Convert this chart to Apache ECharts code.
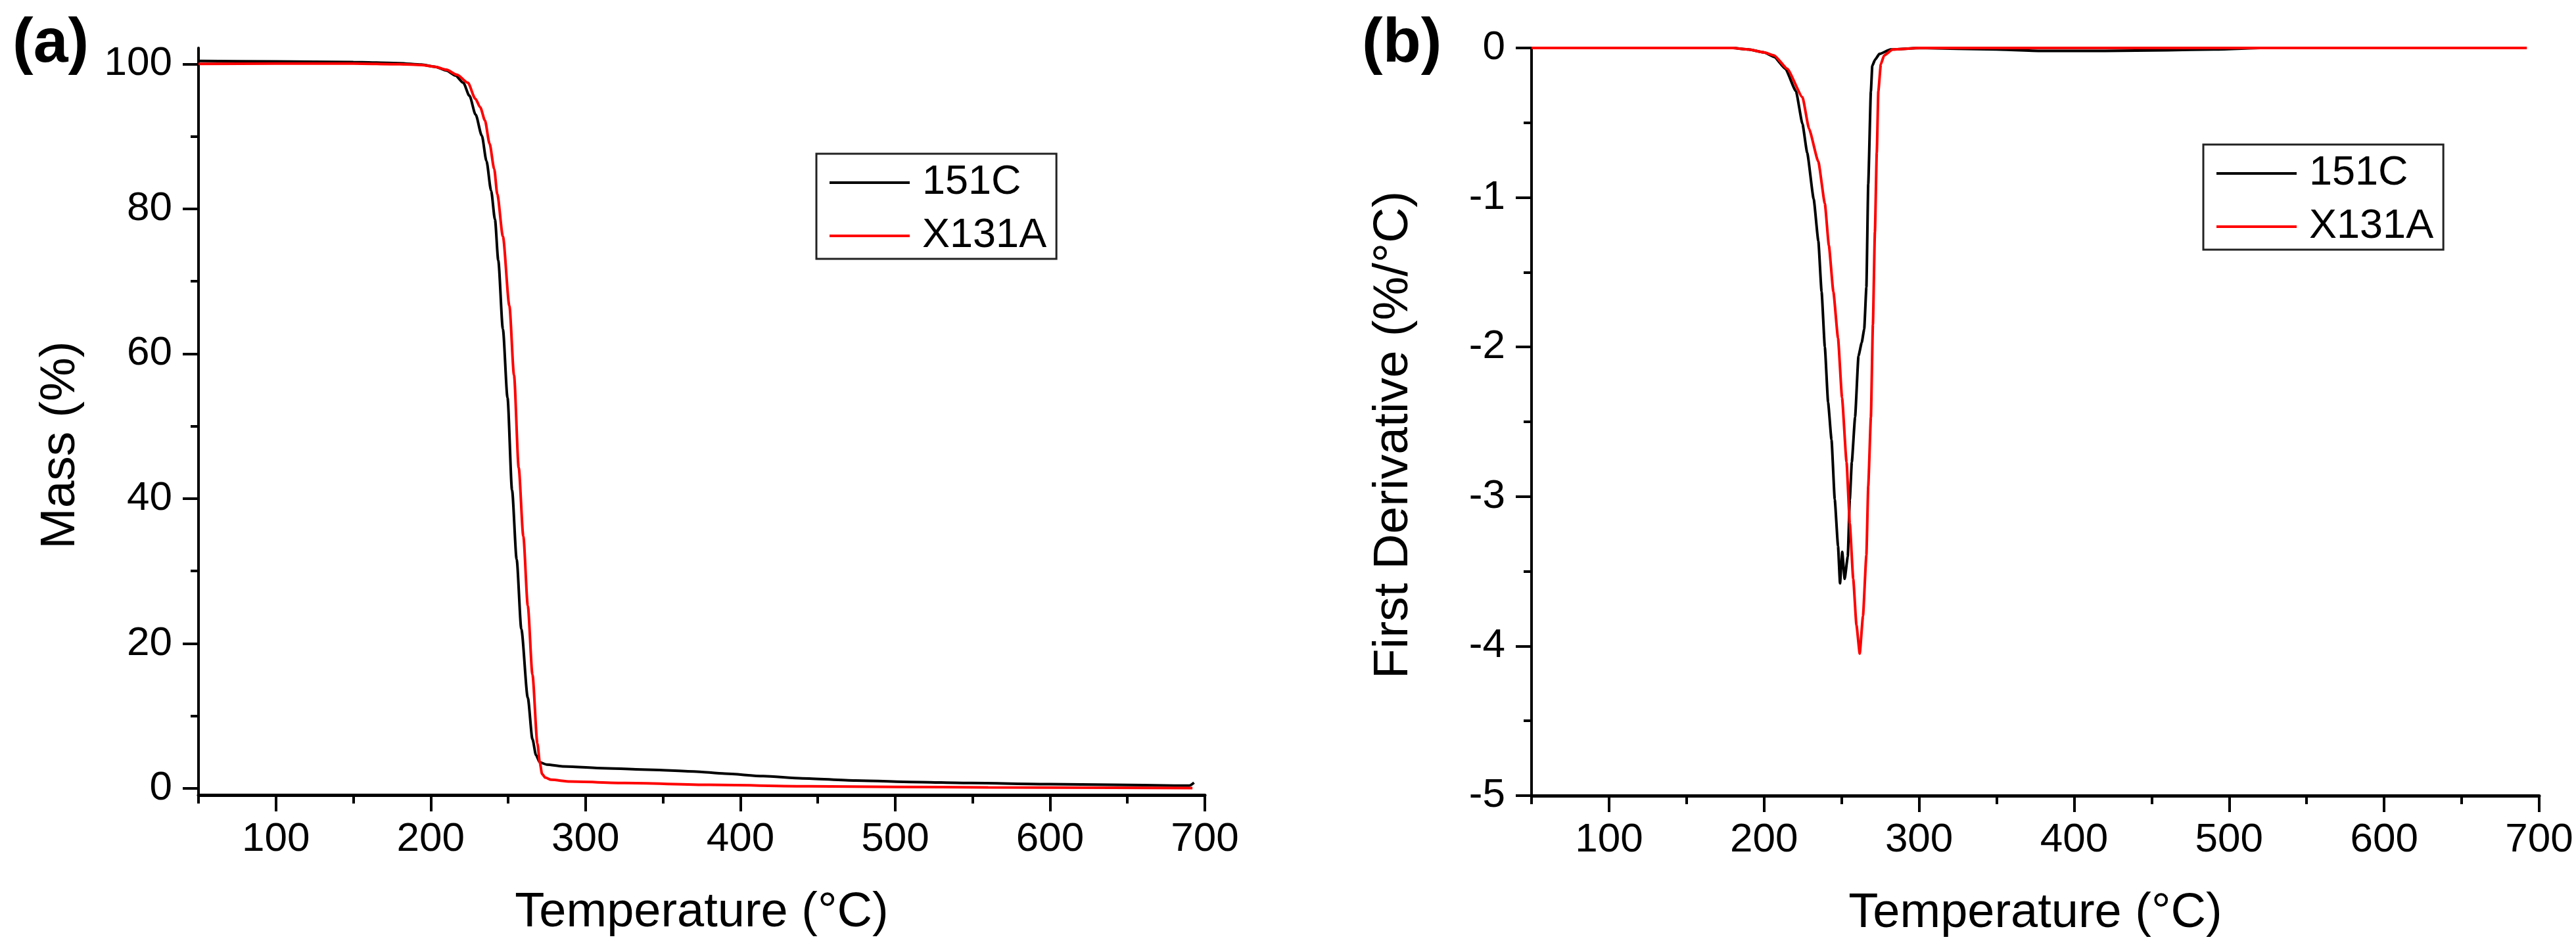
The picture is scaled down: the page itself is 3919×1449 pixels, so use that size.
<!DOCTYPE html>
<html>
<head>
<meta charset="utf-8">
<script src="https://cdn.jsdelivr.net/npm/echarts@6/dist/echarts.min.js"></script>
<style>
html,body{margin:0;padding:0;background:#fff;}
#main{width:3919px;height:1449px;}
</style>
</head>
<body>
<div id="main"></div>
<script>
//TGA curves (panel a)
var tgaTemp151C = [50,100,150,180,194,203,210,216,221,225,229,233,236,239,241.5,243.6,246.6,249.6,252.5,255.5,258.5,262.7,265.7,268,270.4,274.9,285,310.7,340,370,390,414.8,440,474.4,510,549,600,641,680,690,693];
var tgaMass151C = [100.4,100.35,100.25,100.1,99.9,99.6,99.1,98.4,97.4,95.6,93.0,90.1,86.6,82.5,78.5,72.9,63.4,53.9,41.2,31.6,22.0,12.5,6.8,4.6,3.6,3.3,3.05,2.8,2.6,2.35,2.05,1.7,1.4,1.1,0.9,0.75,0.6,0.5,0.4,0.4,0.8];
var tgaTempX131A = [50,100,150,180,194,203,210,217,224,228.8,232,235,238,241,243,246.6,250.8,253.8,256.8,259.8,262.7,265.7,268.9,270.5,271.9,274,277.8,290,325.6,380,444.5,500,560,641,692];
var tgaMassX131A = [100.0,100.05,100.05,99.95,99.85,99.6,99.2,98.5,97.4,95.2,94.0,92.2,89.0,85.5,82.0,76.2,66.6,57.0,44.3,34.8,25.2,15.7,6.2,3.5,2.0,1.5,1.2,0.95,0.75,0.5,0.3,0.22,0.15,0.1,0.05];
//DTG curves (panel b)
var dtgTemp151C = [50,100,150,180,190,200,206.6,213.8,220.6,224.8,227.8,232,235,237.1,239.2,241.3,243.5,245.6,247.7,249,250.4,252,254,255.3,256.6,258.7,260.9,263,264.6,266,267.2,268.9,269.8,271.5,274.4,281.6,300,350,380,420,460,490,520,600,692];
var dtgVal151C = [0,0,0,0,-0.01,-0.03,-0.06,-0.14,-0.29,-0.51,-0.70,-1.01,-1.29,-1.63,-2.0,-2.37,-2.62,-3.02,-3.33,-3.58,-3.37,-3.55,-3.4,-3.02,-2.77,-2.47,-2.06,-1.97,-1.88,-1.60,-0.91,-0.29,-0.12,-0.08,-0.04,-0.01,0,-0.01,-0.02,-0.02,-0.015,-0.01,0,0,0];
var dtgTempX131A = [50,100,150,180,190,200,206.6,215,224.8,229,235,239.2,241.8,244.7,247.7,250.3,253.2,255.3,257.5,259.6,261.7,263.8,266,267.2,268.9,270.2,271.5,272.7,273.7,275.3,277.4,283,300,400,500,600,692];
var dtgValX131A = [0,0,0,0,-0.01,-0.03,-0.05,-0.14,-0.33,-0.54,-0.76,-1.04,-1.32,-1.63,-1.94,-2.34,-2.77,-3.18,-3.55,-3.86,-4.05,-3.80,-3.39,-2.93,-2.47,-1.85,-1.23,-0.70,-0.29,-0.11,-0.05,-0.01,0,0,0,0,0];
//ticks
var xMajor = [100,200,300,400,500,600,700];
var xMinor = [50,150,250,350,450,550,650];
var yMajorA = [0,20,40,60,80,100];
var yMinorA = [10,30,50,70,90];
var seriesNames = ['151C','X131A'];
var seriesColors = ['#000000','#ff0000'];

function zip(xs,ys){
    var out = [];
    for(var i=0,len=xs.length;i<len;i++){
        out.push([xs[i],ys[i]]);
    }
    return out;
}

var FONT = '"Liberation Sans", Arial, Helvetica, sans-serif';
var axisColor = '#000';

//main temperature axis, labels + long ticks
function mainX(grid){
    return {
        type:'value', gridIndex:grid, position:'bottom', min:50, max:700,
        name:'Temperature (\u00b0C)', nameLocation:'middle', nameGap:143,
        nameTextStyle:{fontSize:74,color:'#000',fontFamily:FONT},
        axisLine:{show:true,onZero:false,lineStyle:{color:axisColor,width:5}},
        axisTick:{show:true,customValues:xMajor,length:25,lineStyle:{color:axisColor,width:4}},
        axisLabel:{customValues:xMajor,margin:37,fontSize:62,color:'#000',fontFamily:FONT},
        splitLine:{show:false}
    };
}
//second axis on the same spot, only short ticks
function minorX(grid){
    return {
        type:'value', gridIndex:grid, position:'bottom', offset:0, min:50, max:700,
        axisLine:{show:false,onZero:false},
        axisTick:{show:true,customValues:xMinor,length:13,lineStyle:{color:axisColor,width:4}},
        axisLabel:{show:false},
        splitLine:{show:false}
    };
}
function legendAt(left,top){
    return {
        left:left, top:top, orient:'vertical', data:seriesNames,
        icon:'rect', itemWidth:122, itemHeight:4, itemGap:11,
        padding:[9,15,0,20], borderColor:'#222', borderWidth:3,
        textStyle:{fontSize:63,color:'#000',fontFamily:FONT,lineHeight:70,padding:[0,0,0,14]}
    };
}
function curve(i,xIdx,yIdx,data,smooth){
    return {
        name:seriesNames[i], type:'line', xAxisIndex:xIdx, yAxisIndex:yIdx,
        symbol:'none', showSymbol:false, smooth:smooth, smoothMonotone:'x',
        lineStyle:{color:seriesColors[i],width:4}, itemStyle:{color:seriesColors[i]},
        data:data
    };
}

var e = echarts.init(document.getElementById('main'));
var option = {
    backgroundColor:'#ffffff',
    animation:false,
    grid:[
        {left:302,right:2086,top:73,bottom:239},
        {left:2330,right:56,top:73,bottom:238}
    ],
    xAxis:[mainX(0),minorX(0),mainX(1),minorX(1)],
    yAxis:[
        {
            type:'value', gridIndex:0, position:'left', min:-0.9, max:102.2,
            name:'Mass (%)', nameLocation:'middle', nameGap:172,
            nameTextStyle:{fontSize:75,color:'#000',fontFamily:FONT,padding:[0,72,0,0]},
            axisLine:{show:true,onZero:false,lineStyle:{color:axisColor,width:4}},
            axisTick:{show:true,customValues:yMajorA,length:24,lineStyle:{color:axisColor,width:4}},
            axisLabel:{customValues:yMajorA,margin:40,fontSize:62,color:'#000',fontFamily:FONT},
            splitLine:{show:false}
        },
        {
            type:'value', gridIndex:0, position:'left', offset:0, min:-0.9, max:102.2,
            axisLine:{show:false,onZero:false},
            axisTick:{show:true,customValues:yMinorA,length:12,lineStyle:{color:axisColor,width:4}},
            axisLabel:{show:false},
            splitLine:{show:false}
        },
        {
            type:'value', gridIndex:1, position:'left', min:-5, max:0, interval:1,
            name:'First Derivative (%/\u00b0C)', nameLocation:'middle', nameGap:172,
            nameTextStyle:{fontSize:75,color:'#000',fontFamily:FONT,padding:[0,40,0,0]},
            axisLine:{show:true,onZero:false,lineStyle:{color:axisColor,width:4}},
            axisTick:{show:true,length:24,lineStyle:{color:axisColor,width:4}},
            minorTick:{show:true,splitNumber:2,length:12,lineStyle:{color:axisColor,width:4}},
            axisLabel:{margin:40,fontSize:62,color:'#000',fontFamily:FONT},
            splitLine:{show:false},
            minorSplitLine:{show:false}
        }
    ],
    legend:[legendAt(1242,234),legendAt(3352,220)],
    graphic:[
        {type:'text',left:19,top:20,style:{text:'(a)',font:'bold 95px '+FONT,fill:'#000'}},
        {type:'text',left:2072,top:20,style:{text:'(b)',font:'bold 95px '+FONT,fill:'#000'}}
    ],
    series:[
        curve(0,0,0,zip(tgaTemp151C,tgaMass151C),0.25),
        curve(1,0,0,zip(tgaTempX131A,tgaMassX131A),0.25),
        curve(0,2,2,zip(dtgTemp151C,dtgVal151C),0.15),
        curve(1,2,2,zip(dtgTempX131A,dtgValX131A),0.15)
    ]
};
e.setOption(option);
</script>
</body>
</html>
